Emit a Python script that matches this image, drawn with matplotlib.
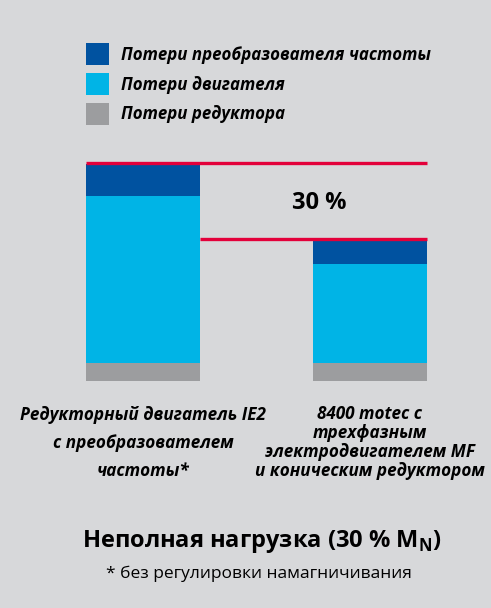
import numpy as np
import matplotlib.pyplot as plt

plt.rcParams['font.family'] = ['Open Sans', 'DejaVu Sans']
plt.rcParams['mathtext.fontset'] = 'custom'
plt.rcParams['mathtext.bf'] = 'Open Sans:bold'

# Данные (условные единицы, высота столбцов)
kategorien = ['Редукторный двигатель IE2\nс преобразователем\nчастоты*',
              '8400 motec с\nтрехфазным\nэлектродвигателем MF\nи коническим редуктором']
reduktor = [18, 18]
motor = [167, 99]
umrichter = [32, 24]
serien = ['Потери преобразователя частоты', 'Потери двигателя', 'Потери редуктора']
farben = ['#0052a0', '#00b4e6', '#9c9d9f']
rot = '#e3003a'
bg = '#d7d8da'
differenz = '30 %'

W, H = 491, 608
fig = plt.figure(figsize=(W / 100, H / 100), dpi=100, facecolor=bg)

def px(x0, y0, x1, y1):
    return [x0 / W, 1 - y1 / H, (x1 - x0) / W, (y1 - y0) / H]

ax = fig.add_axes(px(60, 150, 450, 380.7))
ax.set_facecolor(bg)
x = np.arange(len(kategorien))
w = 0.503
reduktor = np.array(reduktor)
motor = np.array(motor)
umrichter = np.array(umrichter)

b3 = ax.bar(x, reduktor, w, color=farben[2], label=serien[2])
b2 = ax.bar(x, motor, w, bottom=reduktor, color=farben[1], label=serien[1])
b1 = ax.bar(x, umrichter, w, bottom=reduktor + motor, color=farben[0], label=serien[0])

summe = reduktor + motor + umrichter
ax.hlines(summe[0] + 0.8, x[0] - w / 2, x[1] + w / 2, color=rot, lw=2.4)
ax.hlines(summe[1] + 0.8, x[0] + w / 2, x[1] + w / 2, color=rot, lw=2.4)
ax.text(0.776, 171.4, differenz, ha='center', va='baseline', fontsize=17, fontweight='bold')

ax.set_xlim(-83 / 226.7, 307 / 226.7)
ax.set_ylim(0, 230.7)
ax.axis('off')

fs = 12.2
fig.legend(handles=[b1, b2, b3], labels=serien, loc='upper left',
           bbox_to_anchor=(86 / W, 1 - 43.3 / H), frameon=False,
           prop={'size': fs, 'weight': 'bold', 'style': 'italic'},
           handlelength=1.357, handleheight=1.62, handletextpad=0.708,
           labelspacing=0.454, borderpad=0, borderaxespad=0)

# va='baseline' richtet die letzte Zeile aus
fig.text(143 / W, 1 - 476.5 / H, kategorien[0], ha='center', va='baseline', fontsize=12.3,
         fontweight='bold', style='italic', linespacing=1.73)
fig.text(369.7 / W, 1 - 476 / H, kategorien[1], ha='center', va='baseline', fontsize=12.3,
         fontweight='bold', style='italic', linespacing=1.08)

fig.text(262 / W, 1 - 546.7 / H, r'Неполная нагрузка (30 % M$_\mathbf{N}$)',
         ha='center', va='baseline', fontsize=17, fontweight='bold')
fig.text(259 / W, 1 - 578.3 / H, '* без регулировки намагничивания',
         ha='center', va='baseline', fontsize=12.5)

fig.savefig('out.png', dpi=100, facecolor=bg)
